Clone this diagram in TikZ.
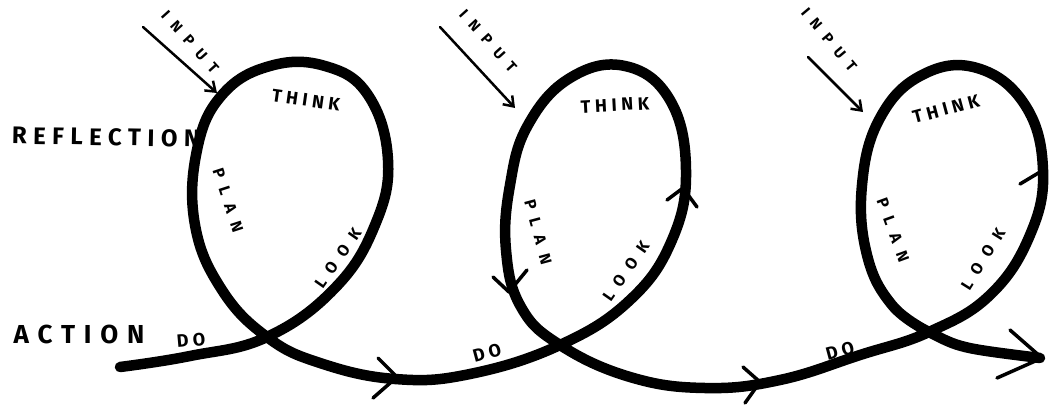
\documentclass[tikz,border=0pt]{standalone}
\usepackage{fontspec}
\newfontfamily\handfont[LetterSpace=25]{Fira Sans}
\newfontfamily\reflfont[LetterSpace=27]{Fira Sans}
\newfontfamily\actfont[LetterSpace=34]{Fira Sans}
\newfontfamily\handfontspaced[LetterSpace=60]{Fira Sans}
\usetikzlibrary{arrows.meta}
\begin{document}
\begin{tikzpicture}[x=1pt,y=-1pt,
  loopline/.style={line width=10.5pt, line cap=round, line join=round},
  barb/.style={line width=3.5pt, line cap=round, line join=round},
  inarrow/.style={line width=2.5pt, line cap=round, -{Straight Barb[length=9pt,width=13pt,line width=2.5pt]}},
  lbl/.style={font=\handfont\bfseries\fontsize{18}{18}\selectfont, inner sep=0pt},
  slbl/.style={font=\handfontspaced\bfseries\fontsize{16}{16}\selectfont, inner sep=0pt},
  reflstyle/.style={font=\reflfont\bfseries\fontsize{24}{24}\selectfont, inner sep=0pt},
  actstyle/.style={font=\actfont\bfseries\fontsize{26}{26}\selectfont, inner sep=0pt},
  small/.style={font=\handfontspaced\bfseries\fontsize{15}{15}\selectfont, inner sep=0pt}]
\useasboundingbox (0,0) rectangle (1049,407);
% main spiral
\coordinate (x3) at (929,332);
\coordinate (tail) at (1040,358);
\draw[loopline] plot[smooth, tension=0.7] coordinates {
 (120,367) (190,356) (267,337) (335,288) (375,225) (388,160) (368,95) (325,66) (270,66) (222,95) (197,150) (195,225) (222,290) (267,337)
 (320,363) (395,379) (470,374) (560,345)
 (630,300) (672,240) (686,170) (670,100) (625,66) (570,78) (528,125) (510,185) (506,250) (521,307) (560,345)
 (630,377) (705,388) (780,380) (860,355) (929,332)
 (990,295) (1030,235) (1043,170) (1025,105) (977,68) (922,75) (880,118) (862,185) (867,255) (892,305) (929,332)};
\draw[loopline] (x3) .. controls (960,348) .. (tail);
% arrow barbs on the spiral
\coordinate (b1a) at (378,358); \coordinate (b1) at (397,377); \coordinate (b1b) at (373,398);
\draw[barb] (b1a) -- (b1) -- (b1b);
\coordinate (b2a) at (743,367); \coordinate (b2) at (760,382); \coordinate (b2b) at (745,403);
\draw[barb] (b2a) -- (b2) -- (b2b);
\coordinate (b3a) at (493,277); \coordinate (b3) at (509,292); \coordinate (b3b) at (527,270);
\draw[barb] (b3a) -- (b3) -- (b3b);
\coordinate (b4a) at (667,200); \coordinate (b4) at (683,188); \coordinate (b4b) at (697,207);
\draw[barb] (b4a) -- (b4) -- (b4b);
\coordinate (b5a) at (1020,184); \coordinate (b5) at (1040,172);
\draw[barb] (b5a) -- (b5);
\coordinate (b6a) at (1010,330); \coordinate (b6) at (1042,358); \coordinate (b6b) at (997,378);
\draw[barb] (b6a) -- (b6) -- (b6b);
% input arrows
\coordinate (i1s) at (143,27); \coordinate (i1e) at (217,93);
\draw[inarrow] (i1s) -- (i1e);
\coordinate (i2s) at (440,27); \coordinate (i2e) at (515,108);
\draw[inarrow] (i2s) -- (i2e);
\coordinate (i3s) at (808,57); \coordinate (i3e) at (863,112);
\draw[inarrow] (i3s) -- (i3e);
\node[small, rotate=-48] (in1) at (190,42) {INPUT};
\node[small, rotate=-48] (in2) at (488,41) {INPUT};
\node[small, rotate=-50] (in3) at (829,40) {INPUT};
% side labels
\node[reflstyle, rotate=-1] (refl) at (106,137) {REFLECTION};
\node[actstyle] (act) at (79,334) {ACTION};
% loop 1
\node[lbl, rotate=-8] (th1) at (306,100) {THINK};
\node[slbl, rotate=-72] (pl1) at (228,200) {PLAN};
\node[slbl, rotate=55] (lo1) at (338,258) {LOOK};
\node[lbl, rotate=5] (do1) at (191,340) {DO};
% loop 2
\node[lbl, rotate=3] (th2) at (615,105) {THINK};
\node[slbl, rotate=-75] (pl2) at (538,232) {PLAN};
\node[slbl, rotate=55] (lo2) at (626,271) {LOOK};
\node[lbl, rotate=15] (do2) at (487,353) {DO};
% loop 3
\node[lbl, rotate=15] (th3) at (946,109) {THINK};
\node[slbl, rotate=-70] (pl3) at (893,230) {PLAN};
\node[slbl, rotate=58] (lo3) at (983,259) {LOOK};
\node[lbl, rotate=15] (do3) at (840,351) {DO};
\end{tikzpicture}
\end{document}
